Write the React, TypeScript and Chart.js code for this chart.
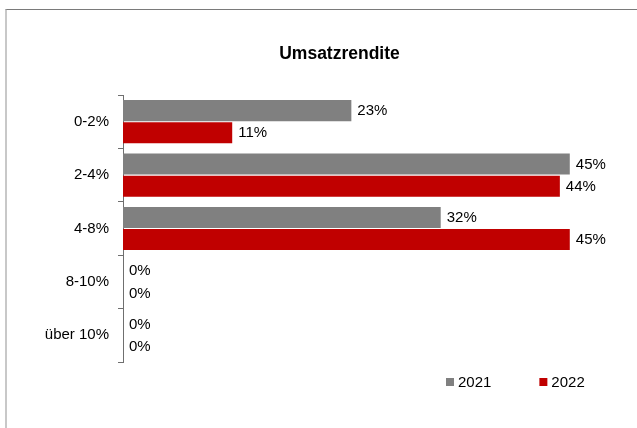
import React, { useEffect, useRef } from "react";
import { Chart, registerables } from "chart.js";

Chart.register(...registerables);

const categories = ["0-2%", "2-4%", "4-8%", "8-10%", "über 10%"];
const values2021 = [23, 45, 32, 0, 0];
const values2022 = [11, 44, 45, 0, 0];
const seriesLabels = ["2021", "2022"];
const seriesColors = ["#808080", "#C00000"];
const titleText = "Umsatzrendite";

const FONT = "'Liberation Sans', Arial, sans-serif";

const dataLabelPlugin = {
  id: "dataLabels",
  afterDatasetsDraw(chart: any) {
    const ctx = chart.ctx;
    ctx.save();
    ctx.font = `15px ${FONT}`;
    ctx.fillStyle = "#000";
    ctx.textAlign = "left";
    ctx.textBaseline = "middle";
    chart.data.datasets.forEach((ds: any, i: number) => {
      const meta = chart.getDatasetMeta(i);
      meta.data.forEach((el: any, j: number) => {
        ctx.fillText(`${ds.data[j]}%`, el.x + 6, el.y + 0.5);
      });
    });
    ctx.restore();
  },
};

const legendPlugin = {
  id: "customLegend",
  afterDraw(chart: any) {
    const ctx = chart.ctx;
    ctx.save();
    ctx.font = `15px ${FONT}`;
    ctx.textAlign = "left";
    ctx.textBaseline = "middle";
    let x = 446;
    const y = 382;
    chart.data.datasets.forEach((ds: any) => {
      ctx.fillStyle = ds.backgroundColor;
      ctx.fillRect(x, y - 4, 8, 8);
      ctx.fillStyle = "#000";
      ctx.fillText(ds.label, x + 12, y + 0.5);
      const w = ctx.measureText(ds.label).width;
      x = x + 12 + w + 48;
    });
    ctx.restore();
  },
};

export default function App() {
  const ref = useRef<HTMLCanvasElement>(null);
  useEffect(() => {
    if (!ref.current) return;
    const chart = new Chart(ref.current, {
      type: "bar",
      data: {
        labels: categories,
        datasets: [
          {
            label: seriesLabels[0],
            data: values2021,
            backgroundColor: seriesColors[0],
            barPercentage: 0.95,
            categoryPercentage: 0.83,
          },
          {
            label: seriesLabels[1],
            data: values2022,
            backgroundColor: seriesColors[1],
            barPercentage: 0.95,
            categoryPercentage: 0.83,
          },
        ],
      },
      options: {
        indexAxis: "y",
        responsive: false,
        animation: false,
        devicePixelRatio: 1,
        layout: { padding: { left: 0, right: 0, top: 0, bottom: 66 } },
        plugins: {
          legend: { display: false },
          tooltip: { enabled: false },
          title: {
            display: true,
            text: titleText,
            color: "#000",
            font: { family: FONT, size: 17.5, weight: "bold" },
            padding: { top: 43.5, bottom: 30.5 },
          },
        },
        scales: {
          x: { display: false, min: 0, max: 56 },
          y: {
            offset: true,
            afterFit: (scale: any) => {
              scale.width = 123;
            },
            grid: {
              display: true,
              offset: true,
              drawOnChartArea: false,
              drawTicks: true,
              tickLength: 5,
              color: "#6f6f6f",
            },
            border: { display: true, color: "#6f6f6f", width: 1 },
            ticks: {
              color: "#000",
              font: { family: FONT, size: 15 },
              padding: 9,
            },
          },
        },
      } as any,
      plugins: [dataLabelPlugin, legendPlugin],
    });
    return () => chart.destroy();
  }, []);

  return (
    <div
      style={{
        position: "fixed",
        left: 0,
        top: 0,
        width: 637,
        height: 428,
        overflow: "hidden",
        background: "#fff",
      }}
    >
      <div
        style={{
          position: "absolute",
          left: 5,
          top: 9,
          width: 700,
          height: 500,
          borderTop: "1px solid #7a7a7a",
          borderLeft: "2px solid #c8c8c8",
        }}
      />
      <canvas
        ref={ref}
        width={679}
        height={428}
        style={{ position: "absolute", left: 0, top: 0, width: 679, height: 428 }}
      />
    </div>
  );
}
